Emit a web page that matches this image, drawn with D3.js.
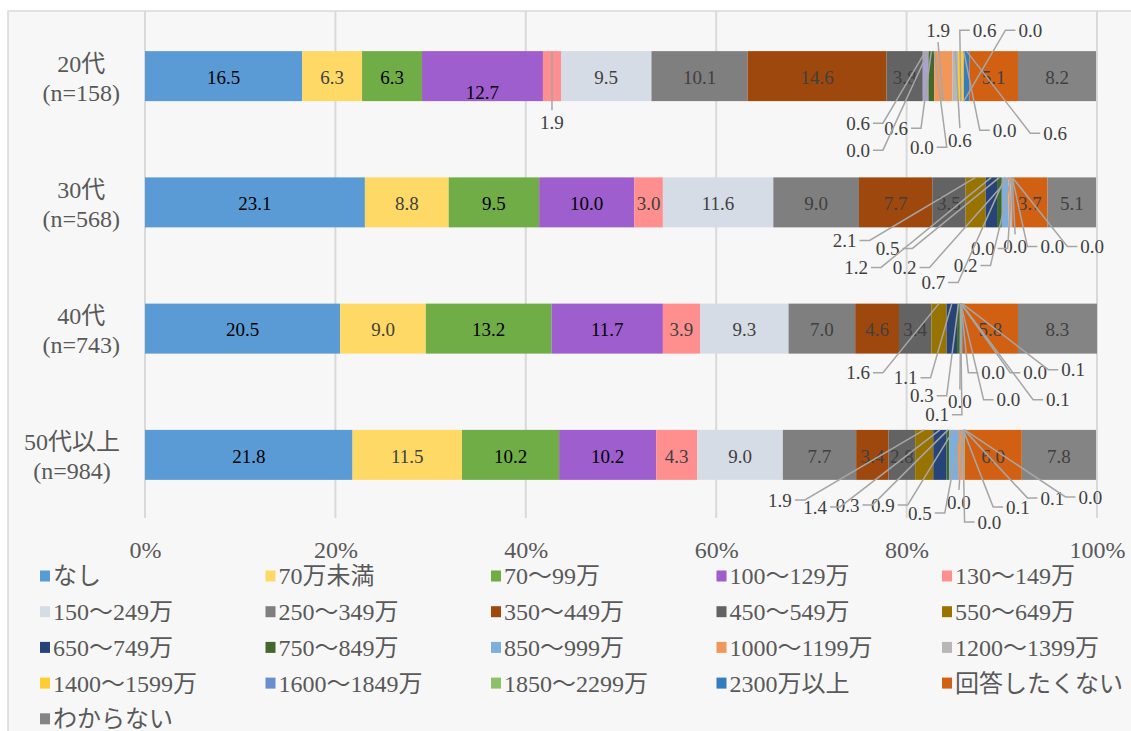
<!DOCTYPE html>
<html><head><meta charset="utf-8">
<script src="https://cdn.jsdelivr.net/npm/d3@7"></script>
<style>
body{margin:0;background:#fff;}
text{font-family:"Liberation Serif","Noto Sans CJK JP",serif;}
</style>
</head><body>
<svg id="chart" width="1131" height="731"></svg>
<script>
// ---------- data ----------
const ageGroups = ["20代", "30代", "40代", "50代以上"];
const sampleSizes = ["(n=158)", "(n=568)", "(n=743)", "(n=984)"];
const seriesNames = ["なし","70万未満","70～99万","100～129万","130～149万",
  "150～249万","250～349万","350～449万","450～549万","550～649万",
  "650～749万","750～849万","850～999万","1000～1199万","1200～1399万",
  "1400～1599万","1600～1849万","1850～2299万","2300万以上","回答したくない","わからない"];
const values20 = [16.5, 6.3, 6.3, 12.7, 1.9, 9.5, 10.1, 14.6, 3.8, 0.6, 0.0, 0.6, 0.0, 1.9, 0.6, 0.6, 0.0, 0.0, 0.6, 5.1, 8.2];
const values30 = [23.1, 8.8, 9.5, 10.0, 3.0, 11.6, 9.0, 7.7, 3.5, 2.1, 1.2, 0.5, 0.7, 0.2, 0.2, 0.0, 0.0, 0.0, 0.0, 3.7, 5.1];
const values40 = [20.5, 9.0, 13.2, 11.7, 3.9, 9.3, 7.0, 4.6, 3.4, 1.6, 1.1, 0.3, 0.1, 0.0, 0.0, 0.0, 0.0, 0.1, 0.1, 5.8, 8.3];
const values50 = [21.8, 11.5, 10.2, 10.2, 4.3, 9.0, 7.7, 3.4, 2.8, 1.9, 1.4, 0.3, 0.9, 0.5, 0.0, 0.0, 0.1, 0.1, 0.0, 6.0, 7.8];
const xTicks = [0, 20, 40, 60, 80, 100];

// ---------- styles / layout ----------
const seriesColors = ["#5B9BD5","#FFD966","#70AD47","#9E5ECE","#FF8F8F",
  "#D6DCE5","#7F7F7F","#9E480E","#636363","#997300",
  "#264478","#43682B","#7CAFDD","#F1975A","#B7B7B7",
  "#FFCD33","#698ED0","#8CC168","#327DC2","#D26012","#848484"];
const pointColorOverride = {"0-9": "#A9A4CB"};
const blackLabelSeries = [0, 2, 3];
// callout label placement: series index -> [x in % units, vertical offset from bar centre]
const calloutLayout = [
  {4:[42.75,46], 9:[74.9,47], 10:[74.9,74], 11:[78.9,52], 12:[81.6,71], 13:[83.3,-46], 14:[85.6,64], 15:[88.2,-46], 16:[93.0,-46], 17:[90.3,54], 18:[95.6,57]},
  {9:[73.5,38], 10:[74.7,65], 11:[78.0,46], 12:[82.8,80], 13:[79.8,65], 14:[86.2,63], 15:[88.0,46], 16:[91.4,44], 17:[95.3,44], 18:[99.5,44]},
  {9:[74.9,44], 10:[79.9,49], 11:[81.6,67], 12:[83.2,86], 13:[85.6,73], 14:[89.1,44], 15:[90.7,71], 16:[93.5,44], 17:[95.9,71], 18:[97.5,41]},
  {9:[66.7,45], 10:[70.4,52], 11:[73.8,50], 12:[77.5,50], 13:[81.4,58], 14:[85.5,47], 15:[88.7,67], 16:[91.7,52], 17:[95.3,43], 18:[99.3,42]}
];
const labelShift = {"0-3": 15};

const groupValues = [values20, values30, values40, values50];
const FONT = '"Liberation Serif","Noto Sans CJK JP",serif';

const svg = d3.select("#chart");
// chart area
svg.append("rect").attr("x", 8).attr("y", 11).attr("width", 1140).attr("height", 740)
  .attr("fill", "#f7f7f7").attr("stroke", "#d9d9d9").attr("stroke-width", 1.5);

const x = d3.scaleLinear().domain([0, 100]).range([145, 1097]);
const y = d3.scaleBand().domain(ageGroups).range([13, 518]).paddingInner(0.604).paddingOuter(0.302);

// gridlines
svg.append("g").selectAll("line").data(xTicks).join("line")
  .attr("x1", d => x(d)).attr("x2", d => x(d))
  .attr("y1", 11).attr("y2", 518)
  .attr("stroke", "#d9d9d9").attr("stroke-width", 2);

// x axis labels
const xAxis = d3.axisBottom(x).tickValues(xTicks).tickFormat(d => d + "%").tickSize(0).tickPadding(0);
const gx = svg.append("g").attr("transform", "translate(0,541)").call(xAxis)
  .attr("font-family", FONT);
gx.select(".domain").remove();
gx.selectAll("text").attr("font-size", 24).attr("fill", "#595959").attr("font-family", FONT);

// category labels
ageGroups.forEach((g, gi) => {
  const cy = y(g) + y.bandwidth() / 2;
  const t1 = svg.append("text").text(g).attr("font-size", 24).attr("fill", "#595959")
    .attr("font-family", FONT)
    .attr("text-anchor", "middle").attr("y", cy - 13).attr("dy", "0.35em");
  const t2 = svg.append("text").text(sampleSizes[gi]).attr("font-size", 24).attr("fill", "#595959")
    .attr("font-family", FONT)
    .attr("text-anchor", "middle").attr("y", cy + 16).attr("dy", "0.35em");
  const w = Math.max(t1.node().getComputedTextLength(), t2.node().getComputedTextLength());
  const cx = 120 - w / 2;
  t1.attr("x", cx); t2.attr("x", cx);
});

// bars
const bh = y.bandwidth();
const barsG = svg.append("g");
const labelsG = svg.append("g");
const leaderG = svg.append("g");
ageGroups.forEach((g, gi) => {
  const vals = groupValues[gi];
  const top = y(g), bottom = top + bh, cy = top + bh / 2;
  let cum = 0;
  const segs = vals.map((v, si) => { const s = {si, v, start: cum}; cum += v; return s; });
  barsG.selectAll(null).data(segs.filter(s => s.v > 0)).join("rect")
    .attr("x", s => x(s.start)).attr("width", s => x(s.start + s.v) - x(s.start))
    .attr("y", top).attr("height", bh)
    .attr("fill", s => pointColorOverride[gi + "-" + s.si] || seriesColors[s.si]);

  const lay = calloutLayout[gi];
  segs.forEach(s => {
    const mid = x(s.start + s.v / 2);
    const fill = blackLabelSeries.includes(s.si) ? "#000000" : "#404040";
    if (lay[s.si]) {
      const [px, dy] = lay[s.si];
      const lx = x(px), ly = cy + dy;
      const t = labelsG.append("text").text(s.v.toFixed(1)).attr("x", lx).attr("y", ly)
        .attr("font-family", FONT)
        .attr("dy", "0.35em").attr("text-anchor", "middle").attr("font-size", 19).attr("fill", "#404040");
      const w = t.node().getComputedTextLength();
      const ty = ly > cy ? top : bottom;
      let path;
      if (Math.abs(mid - lx) <= w / 2) {
        const sy = ly > cy ? ly - 12 : ly + 12;
        path = `M${lx},${sy}L${mid},${ty}`;
      } else {
        const dir = mid > lx ? 1 : -1;
        const sx = lx + dir * (w / 2 + 3);
        const hx = sx + dir * 10;
        path = `M${sx},${ly}L${hx},${ly}L${mid},${ty}`;
      }
      leaderG.append("path").attr("d", path).attr("fill", "none")
        .attr("stroke", "#a6a6a6").attr("stroke-width", 1.5);
    } else if (s.v > 0) {
      const shift = labelShift[gi + "-" + s.si] || 0;
      labelsG.append("text").text(s.v.toFixed(1)).attr("x", mid).attr("y", cy + 1 + shift)
        .attr("font-family", FONT)
        .attr("dy", "0.35em").attr("text-anchor", "middle").attr("font-size", 19).attr("fill", fill);
    }
  });
});

// legend
const legend = svg.append("g");
seriesNames.forEach((name, i) => {
  const col = i % 5, row = Math.floor(i / 5);
  const lx = 40 + col * 225.5, ly = 576 + row * 35.7;
  legend.append("rect").attr("x", lx).attr("y", ly - 5.5).attr("width", 10).attr("height", 11)
    .attr("fill", seriesColors[i]);
  legend.append("text").text(name).attr("x", lx + 13).attr("y", ly).attr("dy", "0.35em")
    .attr("font-family", FONT)
    .attr("font-size", 24).attr("fill", "#595959");
});
</script>
</body></html>
